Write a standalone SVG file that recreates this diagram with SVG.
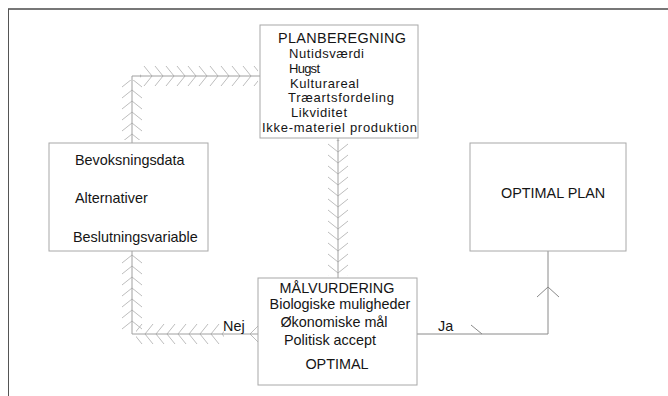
<svg xmlns="http://www.w3.org/2000/svg" width="668" height="396" viewBox="0 0 668 396">
<style>
text{font-family:"Liberation Sans",Arial,sans-serif;font-size:14.4px;fill:#151515}
.sm{font-size:13px}
.box{fill:#fff;stroke:#a8a8a8;stroke-width:1}
.axis{stroke:#a0a0a0;stroke-width:1;fill:none}
.thin{stroke:#8a8a8a;stroke-width:1;fill:none}
.chev{stroke:#b4b4b4;stroke-width:0.9;fill:none}
</style>
<defs>
<pattern id="pDown" patternUnits="userSpaceOnUse" x="-11" y="0" width="22" height="11"><path class="chev" d="M1 1 L11 9 L21 1"/></pattern>
<pattern id="pUp" patternUnits="userSpaceOnUse" x="-11" y="0" width="22" height="11"><path class="chev" d="M1 10 L11 2 L21 10"/></pattern>
<pattern id="pRight" patternUnits="userSpaceOnUse" x="0" y="-11" width="11" height="22"><path class="chev" d="M1 1 L9 11 L1 21"/></pattern>
<pattern id="pLeft" patternUnits="userSpaceOnUse" x="0" y="-11" width="11" height="22"><path class="chev" d="M10 1 L2 11 L10 21"/></pattern>
</defs>
<rect width="668" height="396" fill="#fff"/>
<g id="frame">
<line x1="8" y1="9" x2="668" y2="9" stroke="#4a4a4a" stroke-width="1.5"/>
<line x1="8.5" y1="9" x2="8.5" y2="396" stroke="#555" stroke-width="1"/>
</g>
<g id="connectors">
<rect transform="translate(132,0)" x="-11" y="80" width="22" height="60" fill="url(#pUp)"/>
<rect transform="translate(0,76)" x="140" y="-11" width="118" height="22" fill="url(#pRight)"/>
<path class="axis" d="M132 143 V76 H260"/>
<rect transform="translate(338,0)" x="-11" y="140" width="22" height="136" fill="url(#pDown)"/>
<path class="axis" d="M338 138 V278"/>
<rect transform="translate(0,334)" x="136" y="-11" width="88" height="22" fill="url(#pLeft)"/>
<path class="chev" d="M258 326 L250 334 L258 342"/>
<rect transform="translate(132,0)" x="-11" y="254" width="22" height="76" fill="url(#pUp)"/>
<path class="axis" d="M258 334 H132 V251"/>
<text x="223" y="331">Nej</text>
<path class="thin" d="M417 334 H548 V251"/>
<path class="thin" d="M537 297 L548 287 L559 297"/>
<path class="thin" d="M471 325 L482 334"/>
<text x="438" y="331">Ja</text>
</g>
<g id="planberegning">
<rect class="box" x="260" y="25" width="158" height="113"/>
<text x="278" y="43" textLength="128" lengthAdjust="spacing">PLANBEREGNING</text>
<text class="sm" x="289" y="58" textLength="75" lengthAdjust="spacing">Nutidsværdi</text>
<text class="sm" x="289" y="72.8" textLength="31" lengthAdjust="spacing">Hugst</text>
<text class="sm" x="290" y="87.6" textLength="69" lengthAdjust="spacing">Kulturareal</text>
<text class="sm" x="288" y="102.4" textLength="106" lengthAdjust="spacing">Træartsfordeling</text>
<text class="sm" x="291" y="117.2" textLength="56" lengthAdjust="spacing">Likviditet</text>
<text class="sm" x="262" y="132" textLength="155" lengthAdjust="spacing">Ikke-materiel produktion</text>
</g>
<g id="beslutning">
<rect class="box" x="49" y="143" width="159" height="108"/>
<text x="75" y="165">Bevoksningsdata</text>
<text x="75" y="203">Alternativer</text>
<text x="73" y="242">Beslutningsvariable</text>
</g>
<g id="optimalplan">
<rect class="box" x="470" y="143" width="156" height="108"/>
<text x="501" y="198">OPTIMAL PLAN</text>
</g>
<g id="maalvurdering">
<rect class="box" x="258" y="278" width="159" height="107"/>
<text x="337" y="293" text-anchor="middle">MÅLVURDERING</text>
<text x="340" y="309" text-anchor="middle">Biologiske muligheder</text>
<text x="334" y="327" text-anchor="middle">Økonomiske mål</text>
<text x="330" y="345" text-anchor="middle">Politisk accept</text>
<text x="337" y="369" text-anchor="middle">OPTIMAL</text>
</g>
</svg>
